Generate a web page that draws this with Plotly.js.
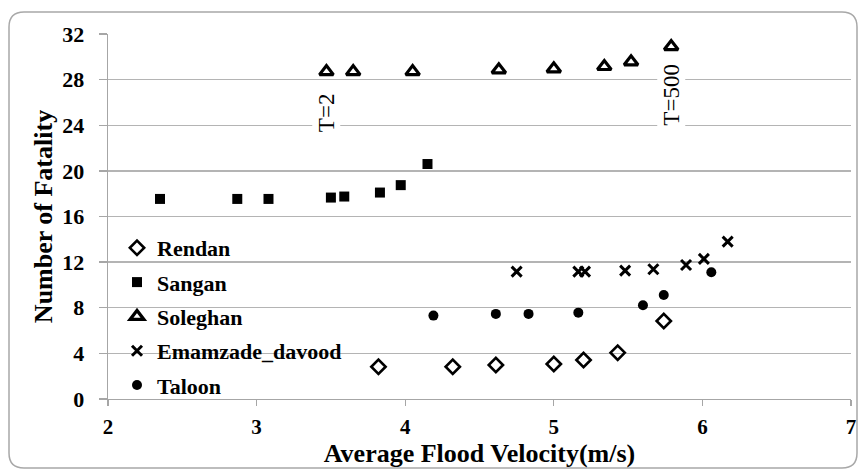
<!DOCTYPE html>
<html>
<head>
<meta charset="utf-8">
<script src="https://cdn.plot.ly/plotly-3.0.1.min.js"></script>
<style>html,body{margin:0;padding:0;background:#fff;}#chart{width:860px;height:470px;}</style>
</head>
<body>
<div id="chart"></div>
<script>
// ---- data ----
const rendanX = [3.82, 4.32, 4.61, 5.00, 5.20, 5.43, 5.74];
const rendanY = [2.83, 2.83, 2.98, 3.07, 3.42, 4.06, 6.84];

const sanganX = [2.35, 2.87, 3.08, 3.50, 3.59, 3.83, 3.97, 4.15];
const sanganY = [17.54, 17.54, 17.54, 17.66, 17.75, 18.10, 18.75, 20.60];

const soleghanX = [3.47, 3.65, 4.05, 4.63, 5.00, 5.34, 5.52, 5.79];
const soleghanY = [28.7, 28.7, 28.7, 28.86, 28.95, 29.15, 29.56, 30.9];

const emamX = [4.75, 5.165, 5.21, 5.48, 5.67, 5.89, 6.01, 6.17];
const emamY = [11.17, 11.17, 11.17, 11.25, 11.38, 11.75, 12.28, 13.8];

const taloonX = [4.19, 4.61, 4.83, 5.165, 5.60, 5.74, 6.06];
const taloonY = [7.31, 7.46, 7.46, 7.57, 8.22, 9.12, 11.11];

const seriesNames = ["Rendan", "Sangan", "Soleghan", "Emamzade_davood", "Taloon"];
const xTicks = [2, 3, 4, 5, 6, 7];
const yTicks = [0, 4, 8, 12, 16, 20, 24, 28, 32];
const labelT2 = {text: "T=2", x: 3.47, y: 25.1};
const labelT500 = {text: "T=500", x: 5.79, y: 26.7};

// ---- layout helpers ----
const W = 860, H = 470;
const M = {l: 108, r: 9, t: 34, b: 71};
const pw = W - M.l - M.r, ph = H - M.t - M.b;
function px(x) { return (x - M.l) / pw; }
function py(y) { return (H - M.b - y) / ph; }

function roundedRect(x0, y0, x1, y1, r) {
  const p = [];
  p.push(`M${px(x0 + r)},${py(y0)}`);
  p.push(`L${px(x1 - r)},${py(y0)}`);
  p.push(`Q${px(x1)},${py(y0)} ${px(x1)},${py(y0 + r)}`);
  p.push(`L${px(x1)},${py(y1 - r)}`);
  p.push(`Q${px(x1)},${py(y1)} ${px(x1 - r)},${py(y1)}`);
  p.push(`L${px(x0 + r)},${py(y1)}`);
  p.push(`Q${px(x0)},${py(y1)} ${px(x0)},${py(y1 - r)}`);
  p.push(`L${px(x0)},${py(y0 + r)}`);
  p.push(`Q${px(x0)},${py(y0)} ${px(x0 + r)},${py(y0)}`);
  p.push("Z");
  return p.join(" ");
}

const serif = "Liberation Serif, Times New Roman, serif";
const b = s => "<b>" + s + "</b>";

const traces = [
  {x: rendanX, y: rendanY, name: b(seriesNames[0]), legendgroup: "g0",
   marker: {symbol: "diamond-open", size: 11, color: "#000", line: {width: 2.6, color: "#000"}}},
  {x: sanganX, y: sanganY, name: b(seriesNames[1]), legendgroup: "g1",
   marker: {symbol: "square", size: 10, color: "#000"}},
  {x: soleghanX, y: soleghanY, name: b(seriesNames[2]), legendgroup: "g2",
   marker: {symbol: "triangle-up-open", size: 12, color: "#000", line: {width: 3.2, color: "#000"}}},
  {x: emamX, y: emamY, name: b(seriesNames[3]), legendgroup: "g3",
   marker: {symbol: "x-thin-open", size: 10, color: "#000", line: {width: 3, color: "#000"}}},
  {x: taloonX, y: taloonY, name: b(seriesNames[4]), legendgroup: "g4",
   marker: {symbol: "circle", size: 10, color: "#000"}}
].map(t => Object.assign({type: "scatter", mode: "markers", hoverinfo: "x+y"}, t));

const layout = {
  width: W, height: H,
  margin: M,
  paper_bgcolor: "#fff", plot_bgcolor: "#fff",
  font: {family: serif, color: "#000"},
  showlegend: true,
  legend: {
    x: px(117), y: py(227), xanchor: "left", yanchor: "top",
    bgcolor: "rgba(0,0,0,0)", borderwidth: 0,
    font: {family: serif, size: 22, color: "#000"},
    traceorder: "grouped", tracegroupgap: 2.7, itemwidth: 30
  },
  xaxis: {
    range: [2, 7], tickvals: xTicks, ticktext: xTicks.map(v => b(String(v))),
    showgrid: false, zeroline: false,
    showline: true, linecolor: "#a6a6a6", linewidth: 1.3,
    ticks: "outside", ticklen: 6, tickcolor: "#a6a6a6", tickwidth: 1.3,
    tickfont: {family: serif, size: 21},
    ticklabelstandoff: 2,
    title: {text: b("Average Flood Velocity(m/s)"), font: {family: serif, size: 26}, standoff: 6},
    fixedrange: true
  },
  yaxis: {
    range: [0, 32], tickvals: yTicks, ticktext: yTicks.map(v => b(String(v))),
    showgrid: true, gridcolor: "#b4b4b4", gridwidth: 1.3,
    zeroline: false,
    showline: true, linecolor: "#a6a6a6", linewidth: 1.3,
    ticks: "outside", ticklen: 8, tickcolor: "#a6a6a6", tickwidth: 1.3,
    tickfont: {family: serif, size: 22},
    ticklabelstandoff: 10,
    title: {text: b("Number of Fatality"), font: {family: serif, size: 26}, standoff: 2},
    fixedrange: true
  },
  annotations: [labelT2, labelT500].map(a => ({
    x: a.x, y: a.y, xref: "x", yref: "y", text: a.text, showarrow: false,
    textangle: -90, bgcolor: "#fff", borderpad: 1,
    font: {family: serif, size: 23, color: "#000"}
  })),
  shapes: [{
    type: "path", xref: "paper", yref: "paper", layer: "below",
    path: roundedRect(9, 12, 857, 468, 15),
    line: {color: "#a8a8a8", width: 1.5}, fillcolor: "rgba(0,0,0,0)"
  }]
};

Plotly.newPlot("chart", traces, layout, {displayModeBar: false, staticPlot: true});
</script>
</body>
</html>
